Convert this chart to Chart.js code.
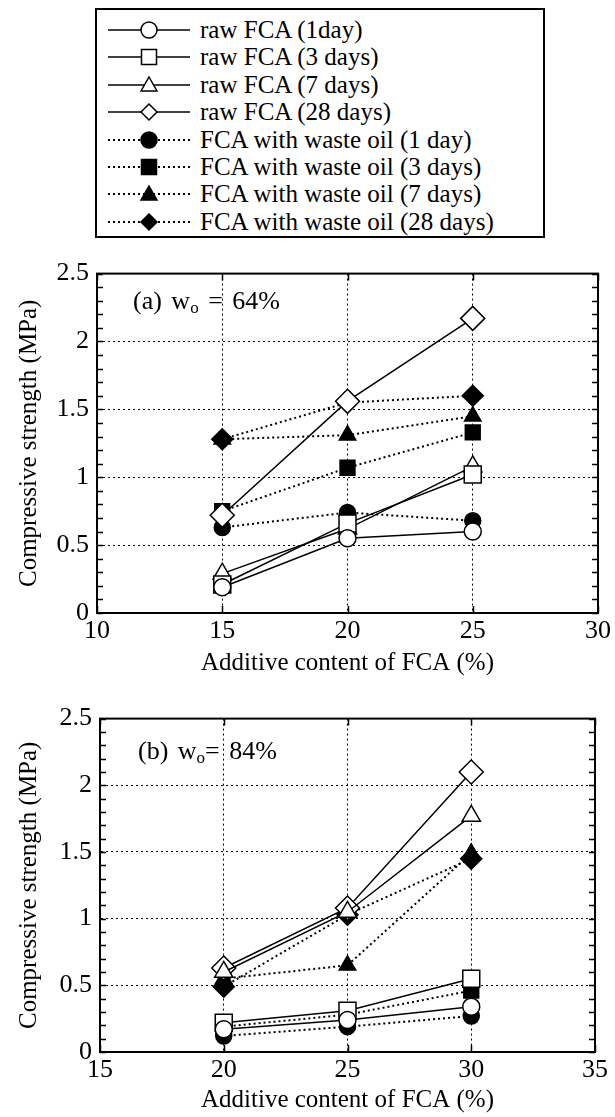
<!DOCTYPE html>
<html><head><meta charset="utf-8">
<script src="https://cdn.jsdelivr.net/npm/chart.js@4.4.1/dist/chart.umd.min.js"></script>
<style>
html,body{margin:0;padding:0;background:#fff;}
body{width:615px;height:1117px;position:relative;overflow:hidden;font-family:"Liberation Serif","Times New Roman",serif;color:#000;}
#legend{position:absolute;left:95px;top:8px;width:450px;height:230px;border:2px solid #000;box-sizing:border-box;}
.item{position:absolute;left:11px;height:26px;line-height:26px;display:flex;align-items:center;font-size:25px;white-space:nowrap;}
.item svg{margin-right:10px;flex:none;}
.note{position:absolute;font-size:26px;white-space:nowrap;word-spacing:3px;}
.note sub{font-size:17px;vertical-align:-4px;}
canvas{position:absolute;left:0;}
</style>
</head><body>
<div id="legend"></div>
<canvas id="cA" width="615" height="430" style="top:250px;width:615px;height:430px"></canvas>
<canvas id="cB" width="615" height="422" style="top:695px;width:615px;height:422px"></canvas>
<div class="note" style="left:133px;top:286px">(a) w<sub>o</sub> = 64%</div>
<div class="note" style="left:138px;top:736px">(b) w<sub>o</sub>= 84%</div>
<script>
// ---- data ----
const seriesNames = [
  'raw FCA (1day)', 'raw FCA (3 days)', 'raw FCA (7 days)', 'raw FCA (28 days)',
  'FCA with waste oil (1 day)', 'FCA with waste oil (3 days)', 'FCA with waste oil (7 days)', 'FCA with waste oil (28 days)'
];
const xTitle = 'Additive content of FCA (%)';
const yTitle = 'Compressive strength (MPa)';

// (a) wo = 64%
const xA = [15, 20, 25];
const aRaw1  = [0.19, 0.55, 0.60];
const aRaw3  = [0.21, 0.66, 1.02];
const aRaw7  = [0.29, 0.62, 1.08];
const aRaw28 = [0.72, 1.56, 2.17];
const aOil1  = [0.63, 0.74, 0.68];
const aOil3  = [0.75, 1.07, 1.33];
const aOil7  = [1.28, 1.31, 1.45];
const aOil28 = [1.28, 1.55, 1.60];

// (b) wo = 84%
const xB = [20, 25, 30];
const bRaw1  = [0.17, 0.24, 0.34];
const bRaw3  = [0.22, 0.31, 0.55];
const bRaw7  = [0.60, 1.05, 1.77];
const bRaw28 = [0.63, 1.08, 2.10];
const bOil1  = [0.12, 0.19, 0.27];
const bOil3  = [0.19, 0.28, 0.46];
const bOil7  = [0.55, 0.65, 1.49];
const bOil28 = [0.49, 1.03, 1.45];

const xRangeA = [10, 30];
const xRangeB = [15, 35];
const yRange = [0, 2.5];

// ---- styles ----
const shapes = ['circle', 'rect', 'triangle', 'rectRot', 'circle', 'rect', 'triangle', 'rectRot'];
const radii  = [8.5, 12, 10.5, 12, 8, 10.5, 9.5, 10.5];
const filled = [false, false, false, false, true, true, true, true];
const FONT = '"Liberation Serif","Times New Roman",serif';

function makeDatasets(xs, seriesList) {
  return seriesList.map((vals, i) => ({
    label: seriesNames[i],
    data: xs.map((x, j) => ({x: x, y: vals[j]})),
    borderColor: '#000',
    borderWidth: filled[i] ? 2 : 1.5,
    borderDash: filled[i] ? [2, 3] : [],
    pointStyle: shapes[i],
    pointRadius: radii[i],
    pointBackgroundColor: filled[i] ? '#000' : '#fff',
    pointBorderColor: '#000',
    pointBorderWidth: 1.5,
    showLine: true,
    fill: false,
    tension: 0
  }));
}

const framePlugin = {
  id: 'frame',
  afterDraw(chart) {
    const {ctx, chartArea: a, scales: {x, y}} = chart;
    ctx.save();
    ctx.strokeStyle = '#000';
    ctx.lineWidth = 2;
    ctx.setLineDash([]);
    ctx.strokeRect(a.left, a.top, a.right - a.left, a.bottom - a.top);
    ctx.lineWidth = 1.5;
    ctx.beginPath();
    const minorStep = 0.1;
    for (let k = 0; k <= Math.round((y.max - y.min) / minorStep); k++) {
      const py = Math.round(y.getPixelForValue(y.min + k * minorStep)) + 0.5;
      ctx.moveTo(a.left, py); ctx.lineTo(a.left + 6, py);
      ctx.moveTo(a.right, py); ctx.lineTo(a.right - 6, py);
    }
    for (let v = x.min; v <= x.max; v += 5) {
      const px = Math.round(x.getPixelForValue(v)) + 0.5;
      ctx.moveTo(px, a.bottom); ctx.lineTo(px, a.bottom - 7);
      ctx.moveTo(px, a.top); ctx.lineTo(px, a.top + 7);
    }
    ctx.stroke();
    ctx.restore();
  }
};

function makeChart(id, xs, seriesList, xRange, yAxisWidth, xAxisHeight) {
  return new Chart(document.getElementById(id), {
    type: 'scatter',
    data: {datasets: makeDatasets(xs, seriesList)},
    options: {
      responsive: false,
      animation: false,
      events: [],
      layout: {padding: {top: 20, right: 615 - 598 + (yAxisWidth - 97), left: 0, bottom: 0}},
      plugins: {legend: {display: false}, tooltip: {enabled: false}},
      scales: {
        x: {
          type: 'linear', min: xRange[0], max: xRange[1],
          afterFit(s) { s.height = xAxisHeight; },
          ticks: {stepSize: 5, color: '#000', font: {family: FONT, size: 26}, padding: 3},
          grid: {color: '#000', lineWidth: 1, drawTicks: false},
          border: {display: true, color: '#000', width: 2, dash: [2, 3]},
          title: {display: true, text: xTitle, color: '#000', font: {family: FONT, size: 25}, padding: {top: 0, bottom: 2}}
        },
        y: {
          type: 'linear', min: yRange[0], max: yRange[1],
          afterFit(s) { s.width = yAxisWidth; },
          ticks: {stepSize: 0.5, color: '#000', font: {family: FONT, size: 26}, padding: 8,
                  callback: (v) => String(Math.round(v * 10) / 10)},
          grid: {color: '#000', lineWidth: 1, drawTicks: false},
          border: {display: true, color: '#000', width: 2, dash: [2, 3]},
          title: {display: true, text: yTitle, color: '#000', font: {family: FONT, size: 25}, padding: {top: 14, bottom: 0}}
        }
      }
    },
    plugins: [framePlugin]
  });
}

makeChart('cA', xA, [aRaw1, aRaw3, aRaw7, aRaw28, aOil1, aOil3, aOil7, aOil28], xRangeA, 97, 67);
makeChart('cB', xB, [bRaw1, bRaw3, bRaw7, bRaw28, bOil1, bOil3, bOil7, bOil28], xRangeB, 100, 65);

// ---- legend (HTML) ----
const legend = document.getElementById('legend');
seriesNames.forEach((name, i) => {
  const div = document.createElement('div');
  div.className = 'item';
  div.style.top = (7 + i * 27.4) + 'px';
  const dash = filled[i] ? 'stroke-dasharray="2 3" stroke-width="2"' : 'stroke-width="1.5"';
  const fill = filled[i] ? '#000' : '#fff';
  let m = '';
  const cx = 41, cy = 13;
  if (shapes[i] === 'circle') m = `<circle cx="${cx}" cy="${cy}" r="8" fill="${fill}" stroke="#000" stroke-width="1.5"/>`;
  if (shapes[i] === 'rect') m = `<rect x="${cx-7.5}" y="${cy-7.5}" width="15" height="15" fill="${fill}" stroke="#000" stroke-width="1.5"/>`;
  if (shapes[i] === 'triangle') m = `<polygon points="${cx},${cy-8} ${cx+8},${cy+6} ${cx-8},${cy+6}" fill="${fill}" stroke="#000" stroke-width="1.5"/>`;
  if (shapes[i] === 'rectRot') m = `<polygon points="${cx},${cy-8} ${cx+8},${cy} ${cx},${cy+8} ${cx-8},${cy}" fill="${fill}" stroke="#000" stroke-width="1.5"/>`;
  div.innerHTML = `<svg width="82" height="26"><line x1="0" y1="${cy}" x2="82" y2="${cy}" stroke="#000" ${dash}/>${m}</svg><span>${name}</span>`;
  legend.appendChild(div);
});
</script>
</body></html>
